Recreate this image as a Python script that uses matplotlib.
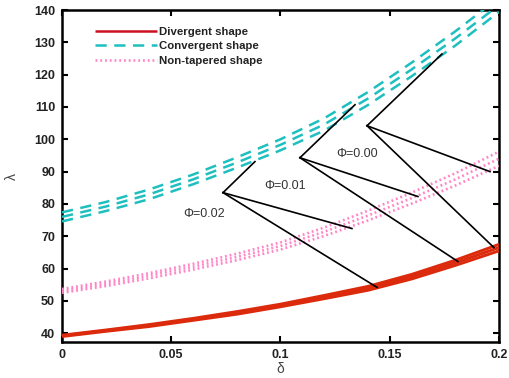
import matplotlib
matplotlib.use("Agg")
import matplotlib.pyplot as plt

plt.rcParams['font.family'] = ['Liberation Sans', 'DejaVu Sans']

delta = [0.0, 0.02, 0.04, 0.06, 0.08, 0.10, 0.12, 0.14, 0.16, 0.18, 0.20]

div_a = [39.4, 41.0, 42.7, 44.6, 46.7, 49.0, 51.7, 54.5, 58.2, 62.6, 67.5]
div_b = [39.2, 40.8, 42.4, 44.3, 46.3, 48.6, 51.2, 53.9, 57.5, 61.8, 66.5]
div_c = [39.0, 40.6, 42.1, 44.0, 45.9, 48.2, 50.7, 53.3, 56.8, 61.0, 65.5]

conv_a = [77.4, 80.6, 84.5, 89.1, 94.4, 100.0, 106.5, 114.6, 123.7, 133.4, 143.8]
conv_b = [76.0, 79.2, 83.0, 87.6, 92.8, 98.3, 104.6, 112.6, 121.6, 131.2, 141.5]
conv_c = [74.6, 77.8, 81.5, 86.1, 91.2, 96.6, 102.7, 110.6, 119.5, 129.0, 139.4]

nt_a = [53.7, 56.0, 58.6, 61.5, 64.6, 68.1, 72.7, 77.9, 83.5, 89.5, 96.2]
nt_b = [53.1, 55.3, 57.8, 60.6, 63.6, 67.0, 71.4, 76.4, 81.8, 87.6, 94.0]
nt_c = [52.5, 54.6, 57.0, 59.7, 62.6, 65.9, 70.1, 74.9, 80.1, 85.7, 91.8]

legend_labels = ['Divergent shape', 'Convergent shape', 'Non-tapered shape']

phi_labels = ['\u03a6=0.02', '\u03a6=0.01', '\u03a6=0.00']
phi_label_pos = [(0.065, 76.8), (0.102, 85.7), (0.135, 95.6)]
phi_vertex = [(0.0737, 83.5), (0.1089, 94.3), (0.1396, 104.2)]
phi_ends = [
    [(0.0883, 93.1), (0.1327, 72.4), (0.1442, 54.2)],
    [(0.1341, 110.7), (0.1629, 82.3), (0.1812, 62.2)],
    [(0.1739, 126.4), (0.1959, 90.0), (0.1977, 66.5)],
]

xticks = [0, 0.05, 0.1, 0.15, 0.2]
xticklabels = ['0', '0.05', '0.1', '0.15', '0.2']
yticks = [40, 50, 60, 70, 80, 90, 100, 110, 120, 130, 140]

fig = plt.figure(figsize=(5.1, 3.78), dpi=100)
ax = fig.add_axes([62/510, 36/378, 437/510, 332/378])

red = '#dc2a0c'
cyan = '#1fbfc0'
pink = '#ff86c6'

for i, ys in enumerate([div_a, div_b, div_c]):
    ax.plot(delta, ys, color=red, lw=2.1, solid_capstyle='butt',
            label=legend_labels[0] if i == 0 else None, zorder=3)
for i, ys in enumerate([conv_a, conv_b, conv_c]):
    ax.plot(delta, ys, color=cyan, lw=1.8, linestyle=(0, (4.5, 3)),
            label=legend_labels[1] if i == 0 else None, zorder=3)
for i, ys in enumerate([nt_a, nt_b, nt_c]):
    ax.plot(delta, ys, color=pink, lw=1.9, linestyle=(0, (0.7, 1.1)),
            label=legend_labels[2] if i == 0 else None, zorder=3)

for lab, lp, v, ends in zip(phi_labels, phi_label_pos, phi_vertex, phi_ends):
    for e in ends:
        ax.plot([v[0], e[0]], [v[1], e[1]], color='black', lw=1.2, zorder=4)
    ax.text(lp[0], lp[1], lab, fontsize=9, color='#333333',
            ha='center', va='center')

ax.set_xlim(0, 0.2)
ax.set_ylim(37.3, 140)
ax.set_xticks(xticks)
ax.set_xticklabels(xticklabels)
ax.set_yticks(yticks)
ax.tick_params(direction='in', top=True, right=True, length=4, width=1.5,
               labelsize=9, pad=5)
for lbl in ax.get_xticklabels() + ax.get_yticklabels():
    lbl.set_fontweight('bold')
    lbl.set_color('#222222')
for sp in ax.spines.values():
    sp.set_linewidth(1.8)

ax.set_xlabel('\u03b4', fontsize=10, color='#444444', labelpad=1)
ax.set_ylabel('\u03bb', fontsize=10, color='#444444', labelpad=11)

leg = ax.legend(loc='upper left', bbox_to_anchor=(0.075, 0.95), frameon=False,
                fontsize=8.2, handlelength=5.5, handletextpad=0.1,
                labelspacing=0.42, borderpad=0, borderaxespad=0)
for t in leg.get_texts():
    t.set_fontweight('bold')
    t.set_color('#222222')
leg_lines = leg.get_lines()
leg_lines[0].set_color('#cc1020')
leg_lines[0].set_linewidth(1.8)

fig.savefig('out.png', dpi=100)
